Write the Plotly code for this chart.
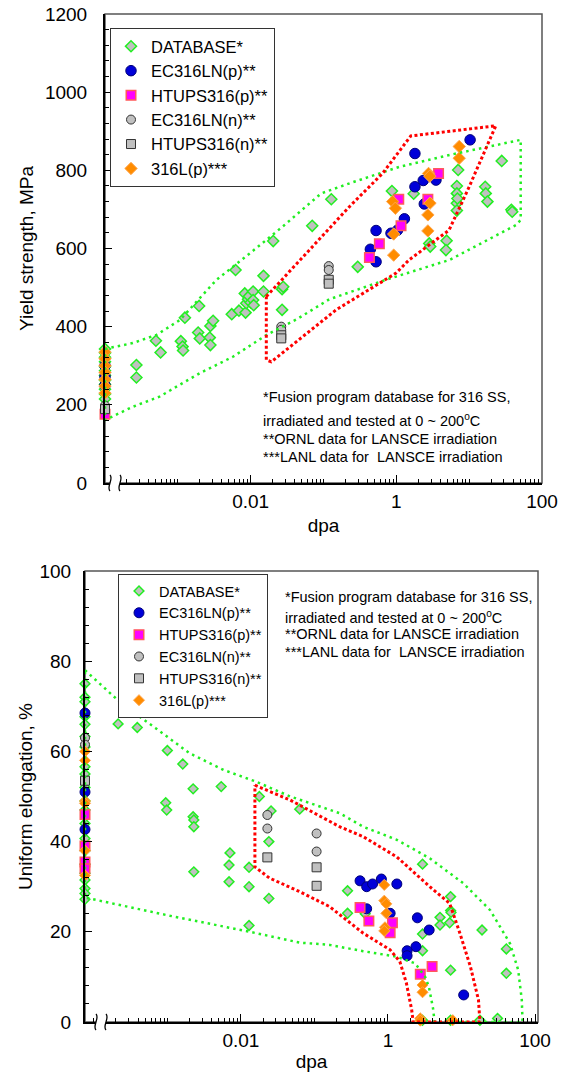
import plotly.graph_objects as go

FONT = "Liberation Sans, Arial, Helvetica, sans-serif"
W, H = 569, 1072

# ---------------- data: yield strength (top panel) ----------------
# dpa = 0 means unirradiated (plotted on the left axis edge)
ys_db_dpa = [0, 0, 0, 0, 0, 0, 0, 0, 0, 0, 0, 0,
             0.00027, 0.00027, 0.0005, 0.00058, 0.0011, 0.00116, 0.00118, 0.00125, 0.00196, 0.0019,
             0.002, 0.00274, 0.0028, 0.0028, 0.00305, 0.0055, 0.0062, 0.0069, 0.0083, 0.0085,
             0.0087, 0.0092, 0.0095, 0.0100, 0.0108, 0.0108, 0.011, 0.015, 0.015, 0.027,
             0.028, 0.027, 0.0204, 0.07, 0.128, 0.295, 0.87, 1.73, 2.83, 2.92,
             4.9, 4.8, 7.06, 6.78, 6.78, 6.78, 6.78, 6.9, 16.6, 16.9, 17.8, 28, 38, 39]
ys_db_val = [343, 333, 322, 310, 298, 287, 275, 263, 252, 240, 228, 215,
             302, 270, 364, 334, 363, 349, 339, 423, 453, 385,
             370, 372, 353, 402, 415, 432, 545, 441, 485, 436,
             460, 470, 478, 462, 490, 468, 455, 530, 490, 496,
             502, 443, 619, 658, 726, 553, 747, 740, 613, 605,
             620, 596, 801, 760, 741, 716, 697, 728, 758, 741, 720, 824, 699, 694]

ys_ecp_dpa = [0, 0, 0, 10.3, 1.8, 1.8, 2.34, 3.5, 2.42, 1.29, 0.527, 0.845, 1.04, 0.44, 0.527]
ys_ecp_val = [300, 272, 250, 878, 843, 758, 774, 775, 714, 676, 646, 639, 647, 598, 566]

ys_htp_dpa = [0, 3.8, 1.08, 2.71, 1.16, 0.585, 0.427]
ys_htp_val = [176, 792, 726, 726, 658, 612, 577]

ys_ecn_dpa = [0, 0.0263, 0.0263, 0.118, 0.118]
ys_ecn_val = [198, 400, 392, 555, 545]

ys_htn_dpa = [0, 0.0263, 0.0263, 0.118, 0.118]
ys_htn_val = [189, 378, 370, 520, 510]

ys_316_dpa = [0, 0, 0, 0, 0, 0, 0, 7.3, 7.3, 2.77, 2.88, 0.89, 0.97, 2.9, 2.71, 2.71, 0.92, 0.92]
ys_316_val = [335, 318, 300, 283, 265, 248, 230, 861, 831, 792, 785, 720, 703, 716, 686, 645, 637, 583]

# envelope bands (top)
ys_green_dpa = [0, 0.00024, 0.00051, 0.00107, 0.002, 0.0034, 0.0098, 0.0275, 0.093, 0.23, 1.1, 5.9, 51,
                51, 44, 5.4, 0.72, 0.12, 0.043, 0.0166, 0.0057, 0.002, 0.00056, 0.00024, 0, 0]
ys_green_val = [343, 358, 379, 417, 473, 520, 588, 656, 741, 767, 809, 841, 878,
                673, 660, 571, 520, 470, 419, 379, 323, 281, 221, 195, 161, 343]
ys_red_dpa = [0.0164, 0.079, 0.227, 0.646, 1.58, 23.2, 10, 5.3, 1.5, 0.99, 0.149, 0.0192, 0.0164, 0.0164]
ys_red_val = [477, 613, 707, 792, 888, 914, 758, 647, 571, 537, 443, 310, 315, 477]

# ---------------- data: uniform elongation (bottom panel) ----------------
ue_db_dpa = [0] * 21 + [
    0.000214, 0.00039, 0.001, 0.00162, 0.00224, 0.0054, 0.00095, 0.00098, 0.00224, 0.00229,
    0.00229, 0.0071, 0.0069, 0.0069, 0.0129, 0.0129, 0.0129, 0.00229, 0.0178, 0.0257,
    0.024, 0.024, 0.063, 2.95, 0.282, 0.282, 0.49, 7.1, 5.1, 5.1,
    7.1, 7.2, 6.9, 2.95, 2.95, 19, 40.7, 7.1, 40.7, 2.95, 7.1, 17.8, 30.9]
ue_db_val = [75, 72, 71, 67.7, 66, 63.3, 61, 56.6, 55, 52, 49, 47, 44, 40.7, 38, 35, 33, 31.5, 29.6, 28.5, 27.2,
             66.1, 65.3, 60.2, 57.2, 51.7, 52.2, 48.6, 47.0, 45.5, 44.8,
             43.3, 37.5, 34.8, 31.1, 34.3, 30.0, 21.4, 33.3, 50.0, 46.8,
             40.0, 27.4, 47.2, 35.0, 29.1, 24.1, 24.0, 27.8, 23.2, 21.5,
             24.7, 24.3, 22.0, 19.5, 15.8, 20.4, 16.2, 11.5, 10.8, 0.4, 0.4, 0.4, 0.8]

ue_ecp_dpa = [0, 0, 0, 0.417, 0.513, 0.617, 0.813, 1.32, 0.513, 1.07, 2.51, 3.63, 2.4, 1.82, 1.82, 10.7]
ue_ecp_val = [68.5, 51, 42.7, 31.3, 30.0, 30.6, 31.7, 30.6, 25.1, 24.1, 23.1, 20.4, 16.7, 15.8, 14.7, 6.0]

ue_htp_dpa = [0, 0, 0, 0, 0.417, 0.55, 1.15, 1.07, 3.98, 2.75]
ue_htp_val = [46, 39, 35.5, 34, 25.4, 22.4, 22.0, 19.8, 12.3, 10.6]

ue_ecn_dpa = [0, 0, 0.0229, 0.0229, 0.107, 0.107]
ue_ecn_val = [63, 61.5, 45.9, 42.9, 41.8, 37.8]

ue_htn_dpa = [0, 0.0229, 0.107, 0.107]
ue_htn_val = [53.5, 36.5, 34.3, 30.2]

ue_316_dpa = [0, 0, 0, 0, 0, 0, 0.89, 0.89, 0.95, 0.95, 0.91, 0.89, 2.95, 2.95, 2.75, 2.75, 7.6]
ue_316_val = [60, 58, 49, 48.5, 38, 32.5, 30.4, 26.9, 26.2, 24.1, 21.0, 20.2, 8.2, 6.6, 0.8, 0.3, 0.4]

ue_green_dpa = [0, 0.00025, 0.0007, 0.002, 0.0058, 0.016, 0.047, 0.22, 0.46, 1.32, 3.7, 10.5, 24.5, 45.7,
                59, 66, 67.6, 4.3, 4.1, 3.6, 3.2, 2.34, 1.31, 0.46, 0.16, 0.063, 0.0132, 0.00098, 0, 0]
ue_green_val = [78, 70.3, 65.1, 59.6, 55.9, 53.3, 50.0, 46.3, 43.3, 40.4, 36.3, 30.8, 24.8, 17.4,
                11.5, 4.9, 0, 0, 3.0, 7.8, 10.0, 13.0, 14.5, 15.7, 17.1, 17.6, 20.0, 23.7, 27.6, 78]
ue_red_dpa = [0.0155, 0.047, 0.22, 0.46, 1.32, 3.7, 6.9, 9.5, 13.2, 17, 17.8, 2.2, 2.1, 1.78, 1.45,
              1.07, 0.46, 0.16, 0.063, 0.0245, 0.0155, 0.0155]
ue_red_val = [52.5, 49.2, 43.3, 41.1, 36.6, 30.0, 26.3, 19.7, 12.3, 4.9, 0, 0, 2.7, 8.6, 13.4,
              16.0, 19.7, 25.6, 28.9, 31.9, 34.4, 52.5]

series_names = ["DATABASE*", "EC316LN(p)**", "HTUPS316(p)**", "EC316LN(n)**", "HTUPS316(n)**", "316L(p)***"]
note_lines = ["*Fusion program database for 316 SS,",
              "irradiated and tested at 0 ~ 200<sup>o</sup>C",
              "**ORNL data for LANSCE irradiation",
              "***LANL data for \u00a0LANSCE irradiation"]
x_tickvals = [0.01, 1, 100]
x_ticktext = ["0.01", "1", "100"]

# ---------------- styles ----------------
STY = {
    "DATABASE*": dict(symbol="diamond", color="#c0c0c0", lc="#22ee22", lw=1.5, size=(8.5, 7.5)),
    "EC316LN(p)**": dict(symbol="circle", color="#0000d8", lc="#00007a", lw=1, size=(10.5, 10)),
    "HTUPS316(p)**": dict(symbol="square", color="#ff00ff", lc="#ff5a5a", lw=1.5, size=(9.5, 9.5)),
    "EC316LN(n)**": dict(symbol="circle", color="#c0c0c0", lc="#333333", lw=1, size=(9, 9)),
    "HTUPS316(n)**": dict(symbol="square", color="#c0c0c0", lc="#333333", lw=1, size=(9, 9)),
    "316L(p)***": dict(symbol="diamond", color="#ff8c00", lc="#ffa64d", lw=1, size=(9.5, 8.5)),
}

TOP_XR = [-4.0, 2.0]
BOT_XR = [-4.12, 2.04]


def at_axis(xs, xr):
    xmin = 10 ** xr[0]
    return [xmin if v == 0 else v for v in xs]


fig = go.Figure()

top_sets = [(ys_db_dpa, ys_db_val), (ys_ecp_dpa, ys_ecp_val), (ys_htp_dpa, ys_htp_val),
            (ys_ecn_dpa, ys_ecn_val), (ys_htn_dpa, ys_htn_val), (ys_316_dpa, ys_316_val)]
bot_sets = [(ue_db_dpa, ue_db_val), (ue_ecp_dpa, ue_ecp_val), (ue_htp_dpa, ue_htp_val),
            (ue_ecn_dpa, ue_ecn_val), (ue_htn_dpa, ue_htn_val), (ue_316_dpa, ue_316_val)]

for name, (xs, ys) in zip(series_names, top_sets):
    s = STY[name]
    fig.add_trace(go.Scatter(
        x=at_axis(xs, TOP_XR), y=ys, mode="markers", name=name, legend="legend",
        xaxis="x", yaxis="y", cliponaxis=False,
        marker=dict(symbol=s["symbol"], size=s["size"][0], color=s["color"],
                    line=dict(color=s["lc"], width=s["lw"]))))

for name, (xs, ys) in zip(series_names, bot_sets):
    s = STY[name]
    fig.add_trace(go.Scatter(
        x=at_axis(xs, BOT_XR), y=ys, mode="markers", name=name, legend="legend2",
        xaxis="x2", yaxis="y2", cliponaxis=False,
        marker=dict(symbol=s["symbol"], size=s["size"][1], color=s["color"],
                    line=dict(color=s["lc"], width=s["lw"]))))

# envelopes (drawn over the markers, as in the original)
for xs, ys, col, xr, ax, ay in [
        (ys_green_dpa, ys_green_val, "#22ee22", TOP_XR, "x", "y"),
        (ys_red_dpa, ys_red_val, "#ff0000", TOP_XR, "x", "y"),
        (ue_green_dpa, ue_green_val, "#22ee22", BOT_XR, "x2", "y2"),
        (ue_red_dpa, ue_red_val, "#ff0000", BOT_XR, "x2", "y2")]:
    fig.add_trace(go.Scatter(
        x=at_axis(xs, xr), y=ys, mode="lines", showlegend=False, hoverinfo="skip",
        xaxis=ax, yaxis=ay, cliponaxis=False,
        line=dict(color=col, width=3 if col == "#ff0000" else 2.5,
                  dash="3px,2.5px" if col == "#ff0000" else "2.5px,4px")))

decades = [1e-4, 1e-3, 1e-2, 1e-1, 1e0, 1e1, 1e2]
minor_vals = [m * d for d in decades[:-1] for m in range(1, 10) if d * m not in x_tickvals]


def xaxis_cfg(domain, xr, anchor, lstand, standoff):
    return dict(type="log", range=xr, domain=domain, anchor=anchor, automargin=False,
                tickmode="array", tickvals=x_tickvals, ticktext=x_ticktext,
                ticks="inside", ticklen=8, tickwidth=1, tickcolor="black",
                minor=dict(tickmode="array", tickvals=minor_vals, ticks="inside", ticklen=4,
                           tickwidth=1, tickcolor="black"),
                showline=True, linecolor="black", linewidth=2, showgrid=False, zeroline=False,
                tickfont=dict(size=19, color="black", family=FONT), ticklabelstandoff=lstand,
                title=dict(text="dpa", font=dict(size=19, color="black", family=FONT), standoff=standoff))


def yaxis_cfg(domain, yr, dtick, mdtick, anchor, title, lstand, tstand):
    return dict(range=yr, domain=domain, anchor=anchor, dtick=dtick, automargin=False,
                ticks="inside", ticklen=7, tickwidth=1, tickcolor="black",
                minor=dict(dtick=mdtick, ticks="inside", ticklen=4, tickwidth=1, tickcolor="black"),
                showline=True, linecolor="black", linewidth=2, showgrid=False, zeroline=False,
                tickfont=dict(size=19, color="black", family=FONT), ticklabelstandoff=lstand,
                title=dict(text=title, font=dict(size=19, color="black", family=FONT), standoff=tstand))


top_xd = [105 / W, 542 / W]
top_yd = [1 - 483 / H, 1 - 14 / H]
bot_xd = [85 / W, 538 / W]
bot_yd = [1 - 1022 / H, 1 - 571 / H]

annotations = []
for i, (line, ytop, ybot) in enumerate(zip(note_lines, [397, 420, 439, 457], [597, 617, 634, 652])):
    for xpx, ypx in [(261, ytop), (283, ybot)]:
        annotations.append(dict(text=line, x=xpx / W, y=1 - ypx / H, xref="paper", yref="paper",
                                xanchor="left", yanchor="middle", showarrow=False,
                                font=dict(size=14.5, color="black", family=FONT)))

frame = "#555555"
brk_path = "M -5,8 C -1,4 -9,-4 -5,-8 L 5,-8 C 1,-4 9,4 5,8 Z"
brk_line = "M -5,8 C -1,4 -9,-4 -5,-8 M 5,-8 C 1,-4 9,4 5,8"
shapes = []
for xr_, yr_ in [("x domain", "y domain"), ("x2 domain", "y2 domain")]:
    shapes.append(dict(type="rect", xref=xr_, yref=yr_, x0=0, x1=1, y0=0, y1=1, layer="below",
                       line=dict(color=frame, width=1.5)))
for bx, by in [(115, 483), (101, 1022)]:
    shapes.append(dict(type="path", xref="paper", yref="paper", xsizemode="pixel", ysizemode="pixel",
                       xanchor=bx / W, yanchor=1 - by / H, path=brk_path,
                       fillcolor="white", line=dict(width=0)))
    shapes.append(dict(type="path", xref="paper", yref="paper", xsizemode="pixel", ysizemode="pixel",
                       xanchor=bx / W, yanchor=1 - by / H, path=brk_line,
                       line=dict(color="black", width=1.3)))

legend_common = dict(xanchor="left", yanchor="top", bgcolor="white", bordercolor="#333333",
                     borderwidth=1, tracegroupgap=0)

fig.update_layout(
    width=W, height=H, margin=dict(l=0, r=0, t=0, b=0, autoexpand=False),
    paper_bgcolor="white", plot_bgcolor="white",
    font=dict(family=FONT, color="black"),
    xaxis=xaxis_cfg(top_xd, TOP_XR, "y", 0, 8),
    yaxis=yaxis_cfg(top_yd, [0, 1200], 200, 40, "x", "Yield strength, MPa", 12, 6),
    xaxis2=xaxis_cfg(bot_xd, BOT_XR, "y2", 0, 6),
    yaxis2=yaxis_cfg(bot_yd, [0, 100], 20, 4, "x2", "Uniform elongation, %", 8, 2),
    legend=dict(x=110 / W, y=1 - 28 / H, font=dict(size=16.5, family=FONT, color="black"), **legend_common),
    legend2=dict(x=118 / W, y=1 - 574 / H, font=dict(size=14.5, family=FONT, color="black"), **legend_common),
    annotations=annotations,
    shapes=shapes,
    showlegend=True,
)

# the page's default 8px body margin would shift the figure; remove it
fig.write_html("out.html", config={"displayModeBar": False},
               post_script="document.body.style.margin='0px';")
